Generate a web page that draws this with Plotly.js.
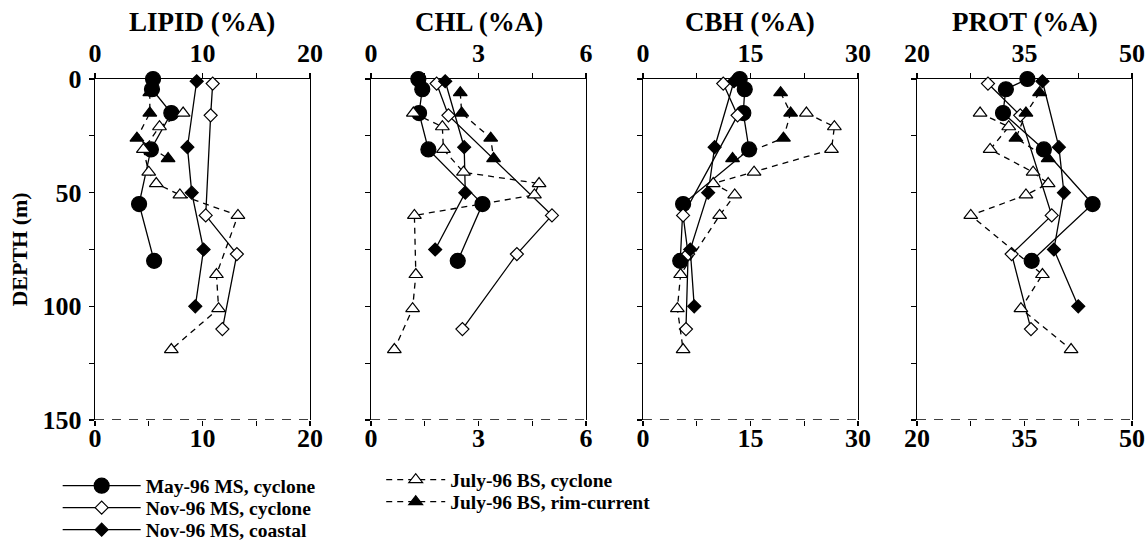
<!DOCTYPE html>
<html><head><meta charset="utf-8">
<script src="https://cdn.plot.ly/plotly-3.0.1.min.js"></script>
<style>html,body{margin:0;padding:0;background:#fff}</style>
</head><body><div id="chart" style="width:1148px;height:542px"></div>
<script>
// ---- labels ----
const panelTitles = ['LIPID (%A)', 'CHL (%A)', 'CBH (%A)', 'PROT (%A)'];
const seriesNames = ['May-96 MS, cyclone', 'Nov-96 MS, cyclone', 'Nov-96 MS, coastal', 'July-96 BS, cyclone', 'July-96 BS, rim-current'];
const yTickVals = [0, 25, 50, 75, 100, 125, 150];
const yTickText = ['0', '', '50', '', '100', '', '150'];
const lipidTicks = [0, 5, 10, 15, 20];
const lipidTickText = ['0', '', '10', '', '20'];
const chlTicks = [0, 1.5, 3, 4.5, 6];
const chlTickText = ['0', '', '3', '', '6'];
const cbhTicks = [0, 7.5, 15, 22.5, 30];
const cbhTickText = ['0', '', '15', '', '30'];
const protTicks = [20, 27.5, 35, 42.5, 50];
const protTickText = ['20', '', '35', '', '50'];

// ---- data (depth in m) ----
const depthMay = [0, 4.5, 15, 31, 55, 80];
const mayLipid = [5.4, 5.3, 7.1, 5.2, 4.1, 5.5];
const mayChl   = [1.32, 1.43, 1.34, 1.6, 3.11, 2.42];
const mayCbh   = [13.5, 14.2, 14.0, 14.8, 5.6, 5.2];
const mayProt  = [35.4, 32.4, 32.0, 37.7, 44.5, 36.0];

const depthNovCyc = [2, 16, 60, 77, 110];
const novCycLipid = [10.95, 10.76, 10.3, 13.2, 11.85];
const novCycChl   = [1.83, 2.16, 5.05, 4.07, 2.55];
const novCycCbh   = [11.2, 13.2, 5.6, 6.3, 6.0];
const novCycProt  = [29.9, 34.4, 38.8, 33.2, 35.9];

const depthNovCoast = [1, 30, 50, 75, 100];
const novCoastLipid = [9.46, 8.6, 9.0, 10.1, 9.33];
const novCoastChl   = [2.07, 2.6, 2.63, 1.79, null];
const novCoastCbh   = [12.7, 10.0, 9.1, 6.6, 7.15];
const novCoastProt  = [37.5, 39.8, 40.5, 39.1, 42.5];

const depthJulCyc = [15, 21, 31, 41, 46, 51, 60, 86, 101, 119];
const julCycLipid = [8.2, 6.0, 4.5, 5.0, 5.7, 7.9, 13.3, 11.3, 11.5, 7.1];
const julCycChl   = [1.18, 1.99, 2.02, 2.58, 4.69, 4.56, 1.21, 1.25, 1.16, 0.65];
const julCycCbh   = [22.8, 26.7, 26.3, 15.5, 9.8, 12.8, 10.7, 5.25, 4.8, 5.6];
const julCycProt  = [28.8, 32.8, 30.2, 36.2, 38.3, 35.2, 27.5, 37.5, 34.5, 41.5];

const depthJulRim = [6, 15, 26, 35];
const julRimLipid = [5.1, 5.1, 3.9, 6.8];
const julRimChl   = [2.49, 2.53, 3.34, 3.42];
const julRimCbh   = [19.2, 20.6, 19.6, 12.5];
const julRimProt  = [37.1, 35.2, 33.8, 38.3];

// ---- assembling ----
const seriesDepths = [depthMay, depthNovCyc, depthNovCoast, depthJulCyc, depthJulRim];
const seriesValues = [
  [mayLipid, mayChl, mayCbh, mayProt],
  [novCycLipid, novCycChl, novCycCbh, novCycProt],
  [novCoastLipid, novCoastChl, novCoastCbh, novCoastProt],
  [julCycLipid, julCycChl, julCycCbh, julCycProt],
  [julRimLipid, julRimChl, julRimCbh, julRimProt]
];
const styles = [
  {symbol: 'circle', size: 15, fill: 'black', dash: 'solid', legend: 'legend'},
  {symbol: 'diamond', size: 10, fill: 'white', dash: 'solid', legend: 'legend2'},
  {symbol: 'diamond', size: 10, fill: 'black', dash: 'solid', legend: 'legend3'},
  {symbol: 'triangle-up', size: 12, fill: 'white', dash: '6px,5px', legend: 'legend4'},
  {symbol: 'triangle-up', size: 12, fill: 'black', dash: '6px,5px', legend: 'legend5'}
];

const traces = [];
for (let p = 0; p < 4; p++) {
  const xa = p === 0 ? 'x' : 'x' + (p + 1);
  const ya = p === 0 ? 'y' : 'y' + (p + 1);
  for (let s = 0; s < 5; s++) {
    const st = styles[s];
    traces.push({
      type: 'scatter', mode: 'lines+markers',
      x: seriesValues[s][p], y: seriesDepths[s],
      xaxis: xa, yaxis: ya,
      name: seriesNames[s],
      legend: st.legend,
      showlegend: p === 0,
      cliponaxis: false,
      connectgaps: false,
      line: {color: 'black', width: 1.3, dash: st.dash},
      marker: {symbol: st.symbol, size: st.size, color: st.fill, line: {color: 'black', width: 1.2}},
      hoverinfo: 'x+y'
    });
  }
  // bottom axis companion (no data)
  traces.push({type: 'scatter', mode: 'markers', x: [], y: [], xaxis: 'x' + (p + 5), yaxis: ya, showlegend: false, hoverinfo: 'skip'});
}

const serif = 'Liberation Serif, Times New Roman, serif';
const tickFont = {family: serif, size: 26, color: 'black', weight: 'bold'};
const domains = [[0, 0.2073], [0.2662, 0.4735], [0.5284, 0.7358], [0.7927, 1]];
const ranges = [[0, 20], [0, 6], [0, 30], [20, 50]];
const tickVals = [lipidTicks, chlTicks, cbhTicks, protTicks];
const tickTexts = [lipidTickText, chlTickText, cbhTickText, protTickText];

const layout = {
  width: 1148, height: 542, autosize: false,
  margin: {l: 95, r: 16, t: 79, b: 122, pad: 0, autoexpand: false},
  paper_bgcolor: 'white', plot_bgcolor: 'white',
  font: {family: serif, color: 'black'},
  annotations: [], shapes: []
};
for (let p = 0; p < 4; p++) {
  const n = p === 0 ? '' : String(p + 1);
  layout['xaxis' + n] = {
    domain: domains[p], range: ranges[p], side: 'top', anchor: 'y' + n,
    showline: true, linecolor: 'black', linewidth: 1.3, mirror: false,
    ticks: 'outside', ticklen: 5, tickwidth: 1.2, tickcolor: 'black',
    tickmode: 'array', tickvals: tickVals[p], ticktext: tickTexts[p],
    tickfont: tickFont, ticklabelstandoff: 0,
    showgrid: false, zeroline: false, layer: 'below traces', fixedrange: true
  };
  layout['xaxis' + (p + 5)] = {
    overlaying: 'x' + n, range: ranges[p], side: 'bottom', anchor: 'y' + n,
    showline: false,
    ticks: 'outside', ticklen: 5, tickwidth: 1.2, tickcolor: 'black',
    tickmode: 'array', tickvals: tickVals[p], ticktext: tickTexts[p],
    tickfont: tickFont, ticklabelstandoff: -10,
    showgrid: false, zeroline: false, layer: 'below traces', fixedrange: true
  };
  layout['yaxis' + n] = {
    domain: [0, 1], range: [150, 0], anchor: 'x' + n,
    showline: true, linecolor: 'black', linewidth: 1.3, mirror: true,
    ticks: 'outside', ticklen: 5, tickwidth: 1.2, tickcolor: 'black',
    tickmode: 'array', tickvals: yTickVals, ticktext: yTickText,
    showticklabels: p === 0, tickfont: tickFont, ticklabelstandoff: 2,
    showgrid: false, zeroline: false, layer: 'below traces', fixedrange: true
  };
  if (p === 0) {
    layout.yaxis.title = {text: 'DEPTH (m)', standoff: 8,
      font: {family: serif, size: 22, color: 'black', weight: 'bold'}};
  }
  layout.annotations.push({
    text: panelTitles[p], xref: 'x' + n + ' domain', yref: 'paper',
    x: 0.5, y: 1.167, xanchor: 'center', yanchor: 'middle', showarrow: false,
    font: {family: serif, size: 27, color: 'black', weight: 'bold'}
  });
  layout.shapes.push({
    type: 'line', xref: 'x' + n + ' domain', yref: 'y' + n,
    x0: 0, x1: 1, y0: 150, y1: 150,
    line: {color: 'black', width: 1.5, dash: '9px,8px'}, layer: 'below'
  });
}

const legFont = {family: serif, size: 19.5, color: 'black', weight: 'bold'};
function leg(xp, yp, w) {
  return {x: xp, y: yp, xanchor: 'left', yanchor: 'middle', xref: 'paper', yref: 'paper',
    bgcolor: 'rgba(0,0,0,0)', borderwidth: 0, font: legFont, itemwidth: w, itemclick: false, itemdoubleclick: false};
}
layout.legend  = leg(-0.036, -0.1935, 78);
layout.legend2 = leg(-0.036, -0.2581, 78);
layout.legend3 = leg(-0.036, -0.3226, 78);
layout.legend4 = leg(0.276, -0.176, 59);
layout.legend5 = leg(0.276, -0.2405, 59);

Plotly.newPlot('chart', traces, layout, {displayModeBar: false, staticPlot: true});
</script></body></html>
